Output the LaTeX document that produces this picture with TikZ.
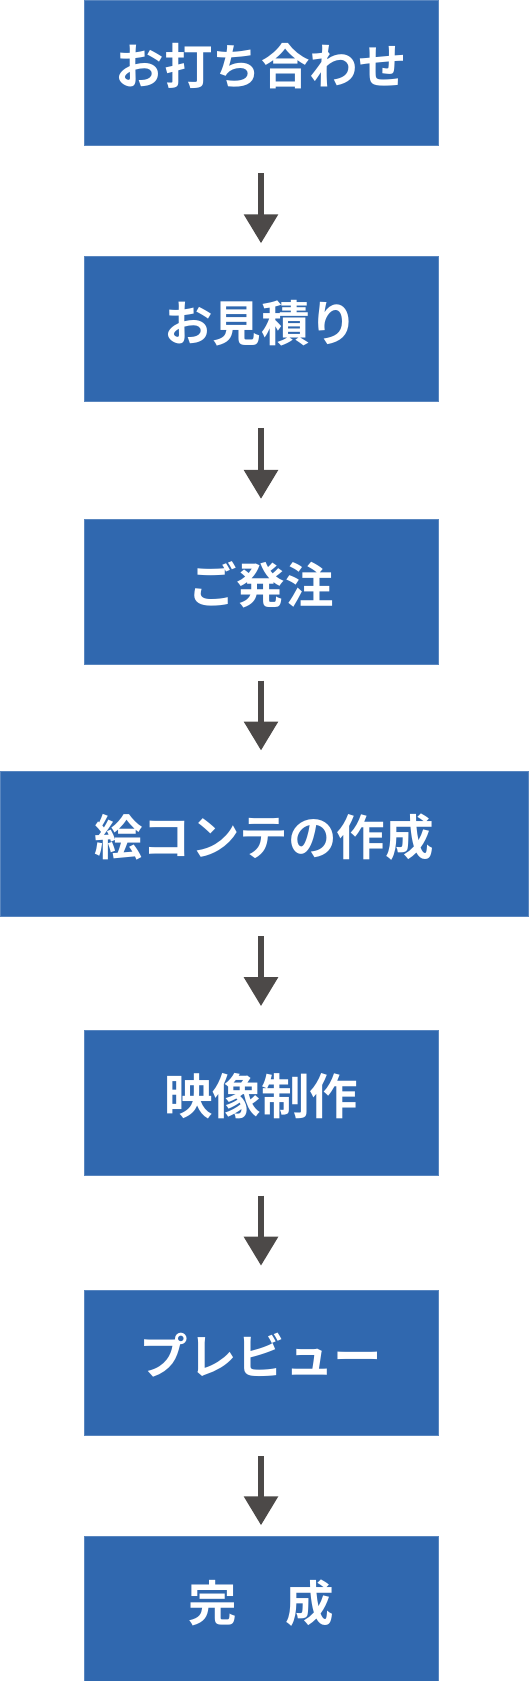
\documentclass[tikz,border=0pt]{standalone}
\usepackage{fontspec}
\newfontfamily\jpfont{Noto Sans CJK JP}[BoldFont={Noto Sans CJK JP Bold}]
\usepackage{xcolor}
\usepackage{tikz}
\usetikzlibrary{arrows.meta, positioning}

\definecolor{flowblue}{HTML}{3068AF}
\definecolor{flowgray}{HTML}{4C4948}

\begin{document}
\begin{tikzpicture}[
    x=1pt, y=1pt,
    stepbox/.style={rectangle, fill=flowblue, draw=flowblue!80!white, line width=0.6pt, minimum width=354pt, minimum height=145pt, inner sep=0pt, text height=41pt, text depth=17pt, text=white, font=\jpfont\bfseries\fontsize{48.5}{48.5}\selectfont},
    widebox/.style={stepbox, minimum width=528pt},
    arrow/.style={-{Triangle[width=33pt, length=29pt]}, line width=6pt, color=flowgray},
]
\useasboundingbox (0,0) rectangle (528,-1681);
\node[stepbox] (s1) at (261,-72.5) {お打ち合わせ};
\node[stepbox, below=111pt of s1] (s2) {お見積り};
\node[stepbox, below=117pt of s2] (s3) {ご発注};
\node[widebox, below=106pt of s3, xshift=3pt] (s4) {絵コンテの作成};
\node[stepbox, below=114pt of s4, xshift=-3pt] (s5) {映像制作};
\node[stepbox, below=114pt of s5] (s6) {プレビュー};
\node[stepbox, below=101pt of s6] (s7) {完　成};
\draw[arrow, shorten <=28pt, shorten >=13pt] (s1) -- (s2);
\draw[arrow, shorten <=26pt, shorten >=20pt] (s2) -- (s3);
\draw[arrow, shorten <=16pt, shorten >=20pt] (s3.south) -- (s3.south |- s4.north);
\draw[arrow, shorten <=20pt, shorten >=24pt] (s4.south -| s5.north) -- (s5.north);
\draw[arrow, shorten <=20pt, shorten >=24pt] (s5) -- (s6);
\draw[arrow, shorten <=21pt, shorten >=11pt] (s6) -- (s7);
\end{tikzpicture}
\end{document}
